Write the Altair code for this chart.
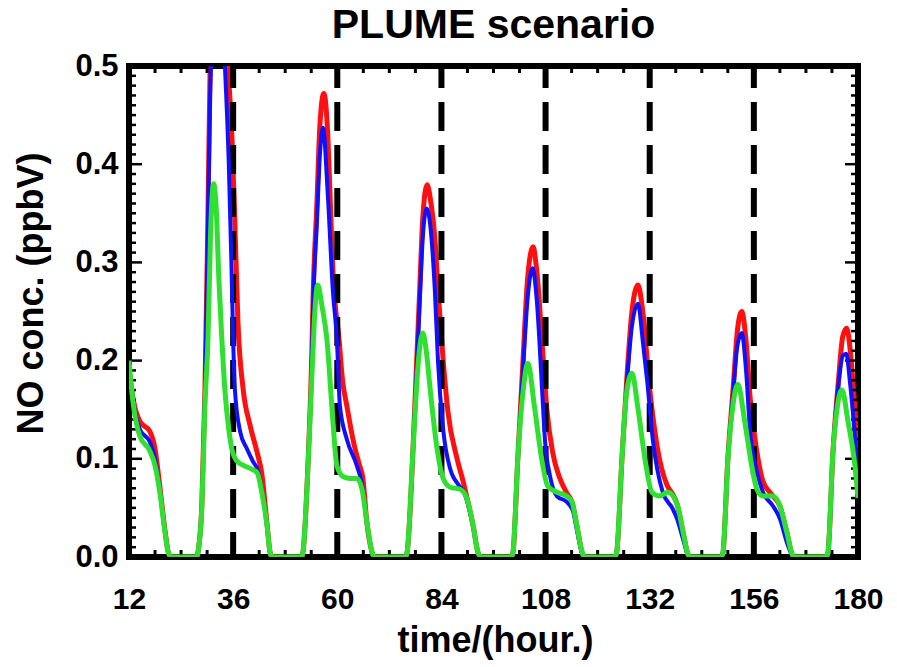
import altair as alt
import pandas as pd

# ---- data ----
hours_green = [12, 13, 14.5, 16.8, 18, 19.1, 20.3, 21.1, 21.8,
               27.6, 27.9, 28.8, 29.5, 30.2, 30.8, 31.5, 32.1, 32.7, 33.4, 34.1, 35.0, 35.8, 36.8, 38.5, 40.5, 41.5, 42.6, 43.8, 44.5, 45,
               51.8, 52.1, 53.2, 54.2, 54.7, 55.5, 56.5, 57.6, 59, 59.9, 61.3, 63, 64.5, 65.7, 66.8, 68, 68.5,
               75.7, 76.1, 77.5, 78.7, 79.7, 80.5, 81.4, 83, 84.4, 86, 88.3, 89.9, 91.3, 92.4, 93,
               100.1, 100.5, 101.6, 102.8, 103.9, 105.5, 107.1, 108.5, 110.6, 112.9, 114.1, 115.2, 116.4, 117,
               124, 124.4, 125.6, 126.7, 127.9, 129.3, 130.9, 132.5, 134.3, 136.2, 138.3, 139.7, 140.8, 141.3,
               148.5, 148.9, 150, 151.2, 152.3, 153.9, 155.5, 156.7, 158.1, 160.4, 162, 163.6, 164.8, 165.3,
               172.7, 173.1, 174.2, 175.3, 176.3, 177.7, 179.3, 180]
no_green = [0.200, 0.155, 0.123, 0.108, 0.093, 0.066, 0.025, 0.004, 0,
            0, 0.005, 0.052, 0.154, 0.222, 0.33, 0.38, 0.355, 0.284, 0.222, 0.17, 0.13, 0.108, 0.098, 0.093, 0.089, 0.086, 0.066, 0.032, 0.005, 0,
            0, 0.005, 0.087, 0.19, 0.24, 0.277, 0.255, 0.222, 0.138, 0.093, 0.082, 0.08, 0.08, 0.069, 0.036, 0.005, 0,
            0, 0.005, 0.113, 0.2, 0.228, 0.21, 0.171, 0.11, 0.08, 0.071, 0.069, 0.059, 0.032, 0.005, 0,
            0, 0.005, 0.1, 0.168, 0.197, 0.151, 0.1, 0.072, 0.066, 0.062, 0.056, 0.032, 0.005, 0,
            0, 0.005, 0.1, 0.168, 0.187, 0.151, 0.1, 0.066, 0.062, 0.066, 0.054, 0.025, 0.003, 0,
            0, 0.005, 0.097, 0.155, 0.176, 0.138, 0.093, 0.069, 0.062, 0.062, 0.052, 0.025, 0.003, 0,
            0, 0.005, 0.105, 0.155, 0.17, 0.138, 0.093, 0.06]

hours_red = [12, 13, 14.5, 16.8, 18, 19.1, 20.3, 21.1, 21.8,
             27.6, 27.9, 28.8, 29.5, 30.1, 30.7, 31.6, 32.7, 33.8, 34.8, 35.7, 36.4, 37.1, 38.3, 39.9, 41.5, 42.6, 43.8, 44.5, 45,
             51.8, 52.1, 53.2, 54.2, 54.4, 55.3, 56, 56.9, 57.8, 58.4, 59.0, 60.4, 61.2, 62.2, 63.6, 65, 65.9, 66.8, 68, 68.5,
             75.7, 76.1, 77.5, 78.3, 79, 79.7, 80.7, 81.6, 82.5, 83.2, 84.4, 85.5, 87.6, 89, 89.9, 91.3, 92.4, 93,
             100.1, 100.5, 101.6, 102.8, 103.8, 105.1, 106, 107.4, 108.3, 109.7, 111.3, 112.9, 114.1, 115.2, 116.4, 117,
             124, 124.4, 125.6, 126.7, 127.9, 129.3, 130.4, 132, 133.7, 136, 137.3, 138.3, 139.7, 140.8, 141.3,
             148.5, 148.9, 150, 151.2, 152.2, 153.2, 154.2, 155.1, 156.7, 158.1, 159.7, 160.4, 162, 163.6, 164.8, 165.3,
             172.7, 173.1, 174.2, 175.5, 176.5, 177.4, 178.1, 178.8, 180]
no_red = [0.19, 0.16, 0.138, 0.128, 0.11, 0.072, 0.027, 0.004, 0,
          0, 0.005, 0.055, 0.17, 0.32, 0.5, 0.6, 0.64, 0.59, 0.5, 0.43, 0.34, 0.24, 0.171, 0.134, 0.107, 0.085, 0.034, 0.005, 0,
          0, 0.005, 0.09, 0.22, 0.26, 0.36, 0.44, 0.472, 0.43, 0.36, 0.29, 0.222, 0.18, 0.154, 0.12, 0.095, 0.08, 0.036, 0.005, 0,
          0, 0.005, 0.115, 0.2, 0.273, 0.345, 0.379, 0.36, 0.324, 0.273, 0.2, 0.148, 0.1, 0.077, 0.06, 0.032, 0.005, 0,
          0, 0.005, 0.1, 0.2, 0.28, 0.316, 0.29, 0.205, 0.15, 0.105, 0.08, 0.065, 0.056, 0.032, 0.005, 0,
          0, 0.005, 0.1, 0.18, 0.25, 0.277, 0.25, 0.171, 0.113, 0.073, 0.064, 0.054, 0.025, 0.003, 0,
          0, 0.005, 0.1, 0.17, 0.23, 0.25, 0.22, 0.164, 0.107, 0.077, 0.066, 0.062, 0.052, 0.025, 0.003, 0,
          0, 0.005, 0.105, 0.18, 0.225, 0.233, 0.215, 0.18, 0.107]

hours_blue = [12, 13, 14.5, 16.8, 18, 19.1, 20.3, 21.1, 21.8,
              27.6, 27.9, 28.8, 29.5, 30.1, 30.7, 31.6, 32.6, 33.5, 34.1, 35, 35.6, 36, 36.4, 37.6, 39.2, 40.6, 41.7, 42.6, 43.8, 44.5, 45,
              51.8, 52.1, 53.2, 54.2, 54.4, 55.3, 56, 56.7, 57.8, 59, 59.9, 60.6, 62.2, 64.5, 65.7, 66.8, 68, 68.5,
              75.7, 76.1, 77.5, 78.3, 79, 79.7, 80.6, 81.6, 82.5, 83.2, 84.4, 86, 88, 89.2, 89.9, 91.3, 92.4, 93,
              100.1, 100.5, 101.6, 102.8, 103.8, 105, 106, 107.2, 107.9, 109, 110.6, 112.9, 114.3, 115.2, 116.4, 117,
              124, 124.4, 125.6, 126.7, 127.9, 129.3, 130.4, 131.4, 132.7, 135, 137.3, 138.3, 139.7, 140.8, 141.3,
              148.5, 148.9, 150, 151.2, 152.2, 153.2, 154.2, 155.1, 156.7, 158.1, 160.4, 162, 163.6, 164.8, 165.3,
              172.7, 173.1, 174.2, 175.5, 176.5, 177.3, 178.1, 178.8, 180]
no_blue = [0.19, 0.157, 0.13, 0.117, 0.1, 0.068, 0.026, 0.004, 0,
           0, 0.005, 0.054, 0.165, 0.31, 0.47, 0.56, 0.59, 0.55, 0.5, 0.4, 0.3, 0.222, 0.171, 0.128, 0.11, 0.097, 0.088, 0.068, 0.033, 0.005, 0,
           0, 0.005, 0.088, 0.21, 0.25, 0.34, 0.41, 0.437, 0.37, 0.27, 0.222, 0.154, 0.12, 0.093, 0.074, 0.036, 0.005, 0,
           0, 0.005, 0.114, 0.19, 0.26, 0.325, 0.355, 0.33, 0.27, 0.2, 0.13, 0.09, 0.073, 0.066, 0.057, 0.031, 0.005, 0,
           0, 0.005, 0.1, 0.19, 0.26, 0.294, 0.26, 0.17, 0.117, 0.083, 0.062, 0.056, 0.047, 0.028, 0.004, 0,
           0, 0.005, 0.1, 0.175, 0.235, 0.258, 0.22, 0.18, 0.12, 0.066, 0.049, 0.039, 0.018, 0.002, 0,
           0, 0.005, 0.099, 0.165, 0.215, 0.228, 0.19, 0.13, 0.087, 0.066, 0.052, 0.039, 0.015, 0.002, 0,
           0, 0.005, 0.105, 0.175, 0.205, 0.207, 0.18, 0.148, 0.08]

x_tick_labels = [12, 36, 60, 84, 108, 132, 156, 180]
dashed_hours = [36, 60, 84, 108, 132, 156]
x_minor_ticks = [18, 24, 30, 42, 48, 54, 66, 72, 78, 90, 96, 102, 114, 120, 126, 138, 144, 150, 162, 168, 174]
y_tick_labels = [0.0, 0.1, 0.2, 0.3, 0.4, 0.5]
y_minor_ticks = [round(i * 0.01, 2) for i in range(1, 50) if i % 10 != 0]

# ---- chart ----
W, H = 729, 491
LABEL_FONT = "'Liberation Sans', Arial, sans-serif"
TITLE_FONT = "'Liberation Sans', Arial, sans-serif"

xs = alt.Scale(domain=[12, 180], nice=False, zero=False)
ys = alt.Scale(domain=[0, 0.5], nice=False, zero=False)

green_df = pd.DataFrame({"t": hours_green, "v": no_green})
red_df = pd.DataFrame({"t": hours_red, "v": no_red})
blue_df = pd.DataFrame({"t": hours_blue, "v": no_blue})

x_axis = alt.Axis(values=x_tick_labels, format="d", ticks=False, tickSize=0, domain=False, grid=False,
                  labelFont=LABEL_FONT, labelFontSize=30, labelFontWeight="bold", labelColor="black",
                  labelPadding=27, labelFlush=False,
                  titleFont=TITLE_FONT, titleFontSize=36, titleFontWeight="bold",
                  titleColor="black", titleX=366, titleY=83, titleBaseline="middle", titleAlign="center")
y_axis = alt.Axis(values=y_tick_labels, format=".1f", ticks=False, tickSize=0, domain=False, grid=False,
                  labelFont=LABEL_FONT, labelFontSize=31, labelFontWeight="bold", labelColor="black",
                  labelPadding=11, labelFlush=False,
                  titleFont=TITLE_FONT, titleFontSize=36, titleFontWeight="bold",
                  titleColor="black", titleX=-98, titleY=227, titleBaseline="middle", titleAlign="center",
                  titleAngle=270)

X = alt.X("t:Q", scale=xs, axis=x_axis, title="time/(hour.)")
Y = alt.Y("v:Q", scale=ys, axis=y_axis, title="NO conc. (ppbV)")

red_line = alt.Chart(red_df).mark_line(color="#ff1010", strokeWidth=5, interpolate="monotone", clip=True).encode(x=X, y=Y)
blue_line = alt.Chart(blue_df).mark_line(color="#1010ff", strokeWidth=4, interpolate="monotone", clip=True).encode(x=X, y=Y)
green_line = alt.Chart(green_df).mark_line(color="#30e030", strokeWidth=5, interpolate="monotone", clip=True).encode(x=X, y=Y)

dashes = alt.Chart(pd.DataFrame({"t": dashed_hours})).mark_rule(
    color="black", strokeWidth=6, strokeDash=[29, 14], strokeDashOffset=7).encode(x=X)

ymaj = pd.DataFrame({"v": y_tick_labels})
ymin = pd.DataFrame({"v": y_minor_ticks})
xmaj = pd.DataFrame({"t": x_tick_labels})
xmin = pd.DataFrame({"t": x_minor_ticks})

def yticks(df, x0, x1):
    return alt.Chart(df).mark_rule(color="black", strokeWidth=2.5).encode(
        y=Y, x=alt.value(x0), x2=alt.value(x1))

def xticks(df, y0, y1):
    return alt.Chart(df).mark_rule(color="black", strokeWidth=3).encode(
        x=X, y=alt.value(y0), y2=alt.value(y1))

tick_layers = [
    yticks(ymaj, 0, 13), yticks(ymin, 0, 7),
    yticks(ymaj, W - 13, W), yticks(ymin, W - 7, W),
    xticks(xmaj, H, H - 13), xticks(xmin, H, H - 7),
    xticks(xmaj, 0, 13), xticks(xmin, 0, 7),
]

chart = alt.layer(
    red_line, *tick_layers, dashes, blue_line, green_line,
).properties(
    width=W, height=H,
    padding={"left": 129, "top": 66, "right": 897 - 129 - W, "bottom": 667 - 66 - H},
    autosize=alt.AutoSizeParams(type="none"),
    background="white",
    title=alt.TitleParams("PLUME scenario", font=TITLE_FONT, fontSize=41, fontWeight="bold",
                          color="black", anchor="middle", offset=3),
).configure_view(stroke="black", strokeWidth=6)

chart.save("out.html", embed_options={"renderer": "svg", "actions": False})
